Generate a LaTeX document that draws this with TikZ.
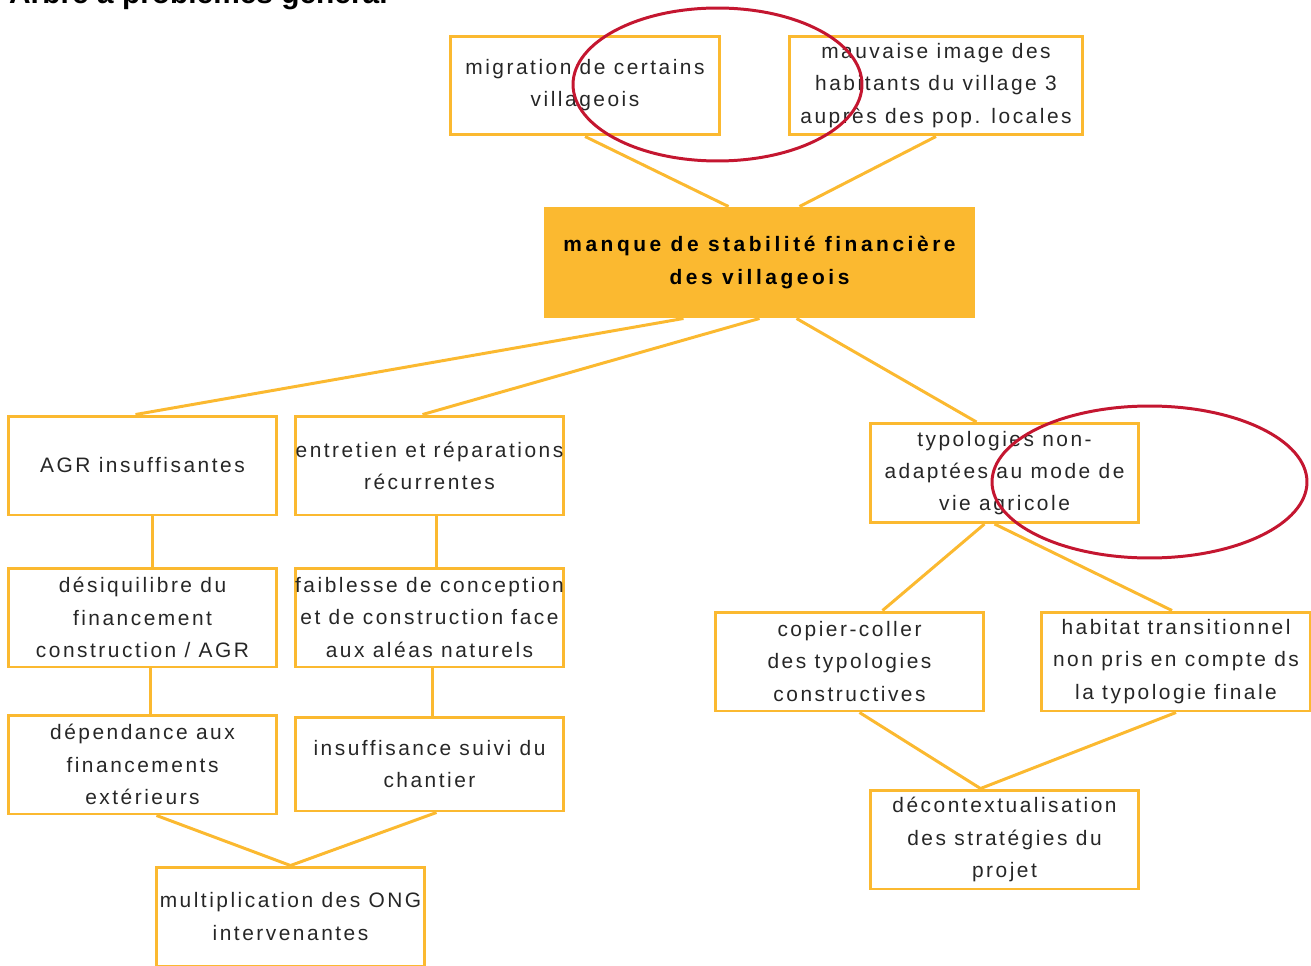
\documentclass[tikz,border=0pt]{standalone}
\usepackage{fontspec}
\setmainfont{Liberation Sans}
\newfontfamily\boitefont{Liberation Sans}[LetterSpace=12]
\newfontfamily\boitegras{Liberation Sans}[LetterSpace=17]
\usetikzlibrary{calc}
\definecolor{orangeA}{RGB}{251,185,48}
\definecolor{rougeC}{RGB}{196,22,48}
\tikzset{
 boite/.style={draw=orangeA, line width=1.7pt, minimum width=5.38cm, minimum height=1.98cm,
   align=center, inner sep=0pt, text=black!85, font=\boitefont\fontsize{11.9}{18.3}\selectfont},
 central/.style={boite, fill=orangeA, text=black, minimum width=8.58cm, minimum height=2.18cm,
   font=\boitegras\bfseries\fontsize{11.9}{18.8}\selectfont},
 lien/.style={draw=orangeA, line width=1.7pt},
 cercle/.style={draw=rougeC, line width=1.7pt},
 titre/.style={font=\bfseries\fontsize{17}{20}\selectfont, inner sep=0pt}
}
\begin{document}
\begin{tikzpicture}[x=0.02cm,y=-0.02cm]
 \useasboundingbox (0,0) rectangle (1311,966);
 \clip (0,0) rectangle (1311,966);
 \node[titre, anchor=base east] (titre) at (388,4) {Arbre à problèmes général};
 % effets
 \node[boite] (migration) at (585,85.5) {migration de certains\\villageois};
 \node[boite, minimum width=5.88cm] (image) at (936,85.5) {mauvaise image des\\habitants du village 3\\auprès des pop. locales};
 % probleme central
 \node[central] (manque) at (759.5,262.5) {manque de stabilité financière\\des villageois};
 % causes
 \node[boite] (agr) at (142.5,465.5) {AGR insuffisantes};
 \node[boite] (entretien) at (429.5,465.5) {entretien et réparations\\récurrentes};
 \node[boite] (typologies) at (1004.5,473) {typologies non-\\adaptées au mode de\\vie agricole};
 \node[boite] (desequilibre) at (142.5,617.5) {désiquilibre du\\financement\\construction / AGR};
 \node[boite] (faiblesse) at (429.5,617.5) {faiblesse de conception\\et de construction face\\aux aléas naturels};
 \node[boite] (copier) at (849.5,661.5) {copier-coller\\des typologies\\constructives};
 \node[boite, minimum width=5.4cm] (habitat) at (1176,661.5) {habitat transitionnel\\non pris en compte ds\\la typologie finale};
 \node[boite] (dependance) at (142.5,764.5) {dépendance aux\\financements\\extérieurs};
 \node[boite, minimum height=1.88cm] (suivi) at (429.5,764) {insuffisance suivi du\\chantier};
 \node[boite] (decontext) at (1004.5,839.5) {décontextualisation\\des stratégies du\\projet};
 \node[boite] (multiplication) at (290.5,916.5) {multiplication des ONG\\intervenantes};
 % liens
 \draw[lien] (migration.south) -- ($(manque.north)+(-31,0)$);
 \draw[lien] (image.south) -- ($(manque.north)+(40,0)$);
 \draw[lien] ($(manque.south)+(-76,0)$) -- ($(agr.north)+(-7,0)$);
 \draw[lien] (manque.south) -- ($(entretien.north)+(-7,0)$);
 \draw[lien] ($(manque.south)+(37,0)$) -- ($(typologies.north)+(-28,0)$);
 \draw[lien] ($(agr.south)+(10,0)$) -- ($(desequilibre.north)+(10,0)$);
 \draw[lien] ($(entretien.south)+(7,0)$) -- ($(faiblesse.north)+(7,0)$);
 \draw[lien] ($(desequilibre.south)+(8,0)$) -- ($(dependance.north)+(8,0)$);
 \draw[lien] ($(faiblesse.south)+(3,0)$) -- ($(suivi.north)+(3,0)$);
 \draw[lien] ($(typologies.south)+(-20,0)$) -- ($(copier.north)+(33,0)$);
 \draw[lien] ($(typologies.south)+(-10,0)$) -- ($(habitat.north)+(-4,0)$);
 \draw[lien] ($(dependance.south)+(14,0)$) -- (multiplication.north) -- ($(suivi.south)+(7,0)$);
 \draw[lien] ($(copier.south)+(10,0)$) -- ($(decontext.north)+(-24,0)$) -- (habitat.south);
 % cercles rouges
 \draw[cercle] (717.5,84.5) ellipse [x radius=2.89cm, y radius=1.53cm];
 \draw[cercle] (1149.5,482) ellipse [x radius=3.15cm, y radius=1.52cm];
\end{tikzpicture}
\end{document}
